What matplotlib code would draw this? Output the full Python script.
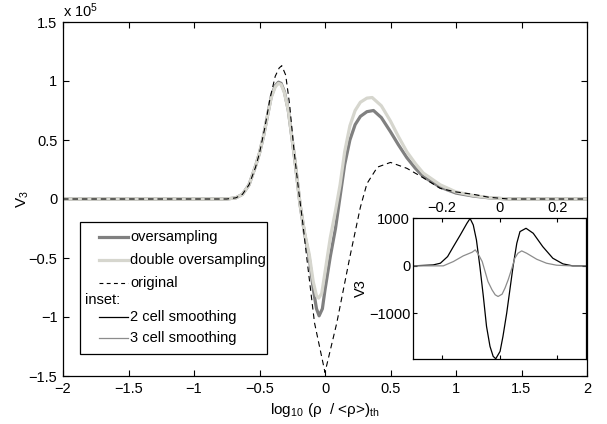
import numpy as np
import matplotlib.pyplot as plt
from matplotlib.patches import Rectangle
from matplotlib.ticker import FuncFormatter

plt.rcParams['font.family'] = ['Liberation Sans', 'DejaVu Sans']
plt.rcParams['mathtext.fontset'] = 'custom'
plt.rcParams['mathtext.rm'] = 'Liberation Sans'
plt.rcParams['mathtext.it'] = 'Liberation Sans'

# main curves, V3 in units of 1e5
x_over = [-2, -0.75, -0.68, -0.63, -0.58, -0.53, -0.5, -0.47, -0.44, -0.41, -0.38, -0.355,
          -0.335, -0.31, -0.28, -0.23, -0.19, -0.155, -0.12, -0.09, -0.065, -0.045, -0.02,
          0.0, 0.04, 0.08, 0.115, 0.15, 0.19, 0.23, 0.27, 0.32, 0.37, 0.43, 0.5, 0.56,
          0.625, 0.69, 0.75, 0.88, 1.0, 1.13, 1.25, 1.4, 2]
v_over = [0, 0, 0.01, 0.04, 0.12, 0.28, 0.39, 0.53, 0.70, 0.87, 0.96, 0.99,
          0.98, 0.91, 0.75, 0.33, -0.05, -0.30, -0.50, -0.76, -0.93, -0.99, -0.93,
          -0.77, -0.49, -0.25, 0.02, 0.29, 0.50, 0.63, 0.70, 0.74, 0.75, 0.69, 0.57, 0.46,
          0.35, 0.26, 0.19, 0.10, 0.05, 0.025, 0.01, 0.0, 0]

x_dbl = [-2, -0.75, -0.68, -0.63, -0.58, -0.53, -0.5, -0.47, -0.44, -0.41, -0.38, -0.355,
         -0.335, -0.31, -0.28, -0.23, -0.19, -0.155, -0.12, -0.09, -0.065, -0.048, -0.025,
         0.0, 0.04, 0.08, 0.115, 0.15, 0.19, 0.23, 0.27, 0.32, 0.36, 0.43, 0.5, 0.56,
         0.625, 0.69, 0.75, 0.88, 1.0, 1.13, 1.25, 1.4, 2]
v_dbl = [0, 0, 0.01, 0.04, 0.12, 0.28, 0.39, 0.53, 0.70, 0.86, 0.95, 0.98,
         0.97, 0.90, 0.75, 0.33, -0.05, -0.29, -0.47, -0.70, -0.82, -0.84, -0.80,
         -0.62, -0.33, -0.10, 0.12, 0.40, 0.62, 0.75, 0.82, 0.855, 0.86, 0.79, 0.66, 0.53,
         0.40, 0.30, 0.22, 0.12, 0.06, 0.03, 0.012, 0.0, 0]

x_orig = [-2, -0.75, -0.68, -0.63, -0.58, -0.53, -0.5, -0.46, -0.42, -0.38, -0.35, -0.33,
          -0.30, -0.27, -0.24, -0.22, -0.20, -0.17, -0.14, -0.08, 0.0, 0.09, 0.19, 0.27,
          0.32, 0.40, 0.5, 0.625, 0.75, 0.88, 1.0, 1.13, 1.25, 1.4, 2]
v_orig = [0, 0, 0.01, 0.04, 0.12, 0.27, 0.39, 0.60, 0.85, 1.04, 1.11, 1.13,
          1.05, 0.80, 0.45, 0.25, 0.06, -0.20, -0.49, -1.05, -1.47, -1.05, -0.49, -0.07,
          0.13, 0.27, 0.31, 0.26, 0.18, 0.09, 0.06, 0.04, 0.015, 0.0, 0]

# inset curves
x_2cell = [-0.30, -0.23, -0.205, -0.18, -0.16, -0.136, -0.113, -0.102, -0.091, -0.08,
           -0.068, -0.056, -0.045, -0.033, -0.022, -0.013, 0.002, 0.012, 0.025, 0.036,
           0.047, 0.060, 0.071, 0.092, 0.117, 0.15, 0.185, 0.22, 0.254, 0.30]
v_2cell = [0, 20, 56, 196, 406, 652, 898, 1000, 863, 547,
           -14, -646, -1277, -1698, -1909, -1960, -1804, -1488, -996, -505,
           -14, 477, 723, 793, 688, 406, 161, 42, 0, 0]

x_3cell = [-0.30, -0.195, -0.16, -0.126, -0.095, -0.084, -0.074, -0.06, -0.05, -0.04,
           -0.026, -0.015, -0.005, 0.009, 0.019, 0.03, 0.043, 0.053, 0.064, 0.077,
           0.094, 0.129, 0.163, 0.198, 0.25, 0.30]
v_3cell = [0, 0, 91, 210, 288, 337, 252, 91, -119, -330,
           -505, -610, -646, -597, -470, -295, -49, 161, 267, 316,
           267, 140, 56, 14, 0, 0]


def minus_fmt(v, pos):
    return ('%g' % v).replace('-', '\u2212')


fig = plt.figure(figsize=(6.07, 4.24), dpi=100)
ax = fig.add_axes([63 / 607, 1 - 376 / 424, 524 / 607, 354 / 424])

ax.plot(x_over, v_over, color='#808080', lw=2.3, solid_joinstyle='round')
ax.plot(x_dbl, v_dbl, color='#d6d6ce', lw=2.3, solid_joinstyle='round')
ax.plot(x_orig, v_orig, color='k', lw=0.8, dashes=(5, 3.5))

ax.set_xlim(-2, 2)
ax.set_ylim(-1.5, 1.5)
ax.set_xticks(np.arange(-2, 2.01, 0.5))
ax.set_yticks(np.arange(-1.5, 1.51, 0.5))
ax.xaxis.set_major_formatter(FuncFormatter(minus_fmt))
ax.yaxis.set_major_formatter(FuncFormatter(minus_fmt))
ax.tick_params(direction='in', top=True, right=True, length=4, width=0.8,
               labelsize=10.5, pad=4)
for s in ax.spines.values():
    s.set_linewidth(0.9)
ax.set_xlabel('log$_{10}$ (ρ  / <ρ>)$_{\\mathrm{th}}$', fontsize=11, labelpad=4)
ax.set_ylabel('V$_3$', fontsize=11, labelpad=-2)
ax.text(0.0, 1.005, 'x 10$^5$', transform=ax.transAxes, ha='left', va='bottom',
        fontsize=10.5)

# legend box, drawn by hand so "inset:" can sit outside the handle column
def axpos(px, py):
    return ((px - 63) / 524, (376 - py) / 354)

x0, y0 = axpos(80, 354)
x1, y1 = axpos(267, 222)
ax.add_patch(Rectangle((x0, y0), x1 - x0, y1 - y0, transform=ax.transAxes,
                       facecolor='white', edgecolor='k', lw=0.9, zorder=5))
entries = [
    ('oversampling', dict(color='#808080', lw=2.3), 237),
    ('double oversampling', dict(color='#d6d6ce', lw=2.3), 260),
    ('original', dict(color='k', lw=0.8, dashes=(3.5, 3)), 283),
    ('inset:', None, 300),
    ('2 cell smoothing', dict(color='k', lw=0.9), 317),
    ('3 cell smoothing', dict(color='#8c8c8c', lw=0.9), 338),
]
for label, style, py in entries:
    if style is None:
        tx, ty = axpos(85, py)
    else:
        la, ly = axpos(99, py)
        lb, _ = axpos(128, py)
        ax.plot([la, lb], [ly, ly], transform=ax.transAxes, zorder=6, **style)
        tx, ty = axpos(130, py)
    ax.text(tx, ty, label, transform=ax.transAxes, ha='left', va='center',
            fontsize=10.5, zorder=6)

# inset
axi = fig.add_axes([413 / 607, 1 - 359 / 424, 173 / 607, 141 / 424])
axi.plot(x_2cell, v_2cell, color='k', lw=0.9)
axi.plot(x_3cell, v_3cell, color='#8c8c8c', lw=0.9)
axi.set_xlim(-0.3, 0.3)
axi.set_ylim(min(v_2cell) - 5, max(v_2cell) + 10)
axi.set_xticks([-0.2, 0, 0.2])
axi.set_yticks([-1000, 0, 1000])
axi.xaxis.set_major_formatter(FuncFormatter(minus_fmt))
axi.yaxis.set_major_formatter(FuncFormatter(minus_fmt))
axi.tick_params(direction='in', top=True, bottom=True, right=True,
                labeltop=True, labelbottom=False, length=3, width=0.8,
                labelsize=10.5, pad=2)
for s in axi.spines.values():
    s.set_linewidth(0.9)
axi.set_ylabel('V3', fontsize=10.5, labelpad=1)

fig.savefig('out.png', dpi=100)
